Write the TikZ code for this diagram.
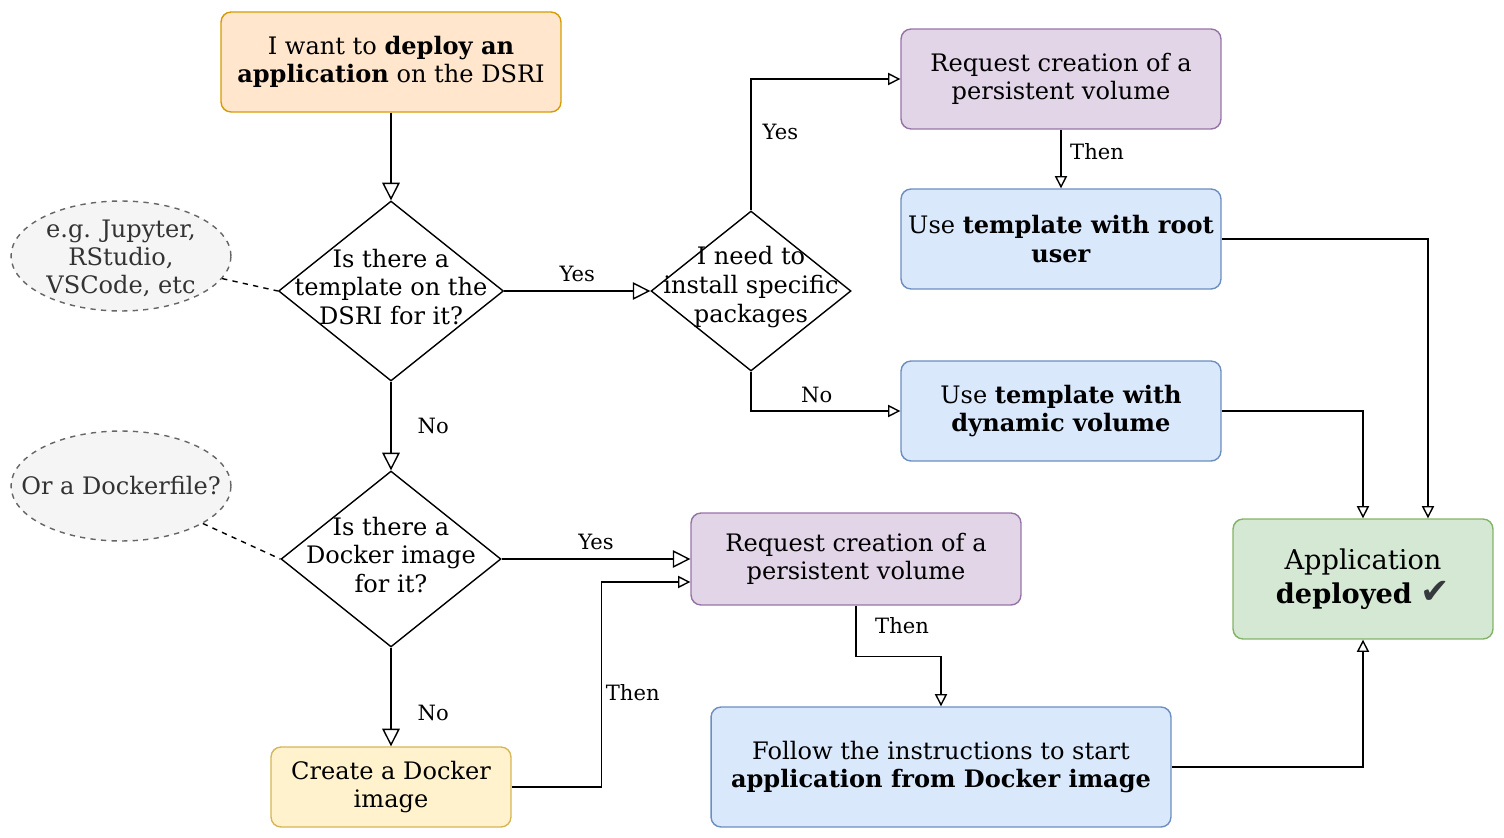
\documentclass[tikz,border=0pt]{standalone}
\usepackage{fontspec}
\setmainfont{DejaVu Serif}
\newfontfamily\tickfont{DejaVu Sans}
\usetikzlibrary{arrows.meta,positioning,shapes.geometric}

\definecolor{orangefill}{HTML}{FFE6CC}
\definecolor{orangedraw}{HTML}{D79B00}
\definecolor{purplefill}{HTML}{E1D5E7}
\definecolor{purpledraw}{HTML}{9673A6}
\definecolor{bluefill}{HTML}{DAE8FC}
\definecolor{bluedraw}{HTML}{6C8EBF}
\definecolor{greenfill}{HTML}{D5E8D4}
\definecolor{greendraw}{HTML}{82B366}
\definecolor{yellowfill}{HTML}{FFF2CC}
\definecolor{yellowdraw}{HTML}{D6B656}
\definecolor{notefill}{HTML}{F5F5F5}
\definecolor{notedraw}{HTML}{666666}
\definecolor{notetext}{HTML}{333333}
\definecolor{tickcol}{HTML}{36393D}

\newcommand{\mainsize}{\fontsize{13.7}{16}\selectfont}
\newcommand{\lblsize}{\fontsize{12}{14}\selectfont}

\tikzset{
  box/.style={rectangle, rounded corners=0.2cm, draw, line width=0.8pt,
    align=center, inner sep=2pt, font=\mainsize},
  orangebox/.style={box, fill=orangefill, draw=orangedraw},
  purplebox/.style={box, fill=purplefill, draw=purpledraw},
  bluebox/.style={box, fill=bluefill, draw=bluedraw},
  greenbox/.style={box, fill=greenfill, draw=greendraw},
  yellowbox/.style={box, fill=yellowfill, draw=yellowdraw},
  decision/.style={diamond, draw, line width=0.8pt, inner sep=0pt},
  dtext/.style={align=center, font=\fontsize{13.7}{16.4}\selectfont, inner sep=0pt, yshift=0.08cm},
  note/.style={ellipse, draw=notedraw, fill=notefill, dashed, line width=0.8pt,
    inner sep=0pt, minimum width=4.4cm, minimum height=2.2cm},
  notetxt/.style={text=notetext, align=center, font=\mainsize, inner sep=0pt},
  bigarr/.style={line width=0.8pt, -{Triangle[open,length=10pt,width=10pt]}},
  arr/.style={line width=0.8pt, -{Triangle[open,length=7pt,width=7pt]}},
  lbl/.style={font=\lblsize, inner sep=2pt},
}

\begin{document}
\begin{tikzpicture}[x=0.02cm, y=-0.02cm]
  \useasboundingbox (0,0) rectangle (1504,838);

  % start
  \node[orangebox, minimum width=6.8cm, minimum height=2cm] (want) at (391,62)
    {I want to \textbf{deploy an}\\\textbf{application} on the DSRI};

  % decisions
  \node[decision, minimum width=4.5cm, minimum height=3.6cm] (tpl) at (391,291) {};
  \node[dtext] (tpltxt) at (tpl) {Is there a\\template on the\\DSRI for it?};
  \node[decision, minimum width=4cm, minimum height=3.2cm] (pkg) at (751,291) {};
  \node[dtext] (pkgtxt) at (pkg) {I need to\\install specific\\packages};
  \node[decision, minimum width=4.4cm, minimum height=3.52cm] (img) at (391,559) {};
  \node[dtext] (imgtxt) at (img) {Is there a\\Docker image\\for it?};

  % side notes
  \node[note] (egnote) at (121,256) {};
  \node[notetxt] (egtxt) at ([yshift=-0.04cm]egnote) {e.g. Jupyter,\\RStudio,\\VSCode, etc};
  \node[note] (dfnote) at (121,486) {};
  \node[notetxt] (dftxt) at (dfnote) {Or a Dockerfile?};

  % right column
  \node[purplebox, minimum width=6.4cm, minimum height=2cm] (pvtop) at (1061,79)
    {Request creation of a\\persistent volume};
  \node[bluebox, minimum width=6.4cm, minimum height=2cm] (root) at (1061,239)
    {Use \textbf{template with root}\\\textbf{user}};
  \node[bluebox, minimum width=6.4cm, minimum height=2cm] (dyn) at (1061,411)
    {Use \textbf{template with}\\\textbf{dynamic volume}};
  \node[greenbox, minimum width=5.2cm, minimum height=2.4cm,
    font=\fontsize{15.5}{19}\selectfont] (done) at (1363,579)
    {Application\\\textbf{deployed} {\tickfont\fontsize{20}{19}\selectfont\color{tickcol}✔}};

  % bottom part
  \node[purplebox, minimum width=6.6cm, minimum height=1.84cm] (pvbot) at (856,559)
    {Request creation of a\\persistent volume};
  \node[bluebox, minimum width=9.2cm, minimum height=2.4cm] (follow) at (941,767)
    {Follow the instructions to start\\\textbf{application from Docker image}};
  \node[yellowbox, minimum width=4.8cm, minimum height=1.6cm] (mkimg) at (391,787)
    {Create a Docker\\image};

  % connectors
  \draw[bigarr] (want) -- (tpl.north);
  \draw[bigarr] (tpl.east) -- node[lbl, above=3pt] {Yes} (pkg.west);
  \draw[bigarr] (tpl.south) -- node[lbl, right=0.45cm] {No} (img.north);
  \draw[bigarr] (img.east) -- node[lbl, above=3pt] {Yes} (pvbot.west);
  \draw[bigarr] (img.south) -- node[lbl, pos=0.66, right=0.45cm] {No} (mkimg.north);

  \draw[arr] (pkg.north) |- node[lbl, pos=0.3, right=0.15cm] {Yes} (pvtop.west);
  \draw[arr] (pkg.south) |- node[lbl, pos=0.72, above=2pt] {No} (dyn.west);
  \draw[arr] (pvtop) -- node[lbl, pos=0.37, right=0.1cm] {Then} (root);
  \draw[arr] (root.east) -| ([xshift=1.3cm]done.north);
  \draw[arr] (dyn.east) -| (done.north);
  \draw[arr] (follow.east) -| (done.south);
  \draw[arr] (mkimg.east) -- ++(90,0) |- node[lbl, pos=0.23, right] {Then}
    ([yshift=-0.46cm]pvbot.west);
  \draw[arr] (pvbot.south) -- node[lbl, pos=0.4, right=0.3cm] {Then} ++(0,51)
    -| (follow.north);

  \draw[dashed, line width=0.8pt] (egnote) -- (tpl.west);
  \draw[dashed, line width=0.8pt] (dfnote) -- (img.west);
\end{tikzpicture}
\end{document}
